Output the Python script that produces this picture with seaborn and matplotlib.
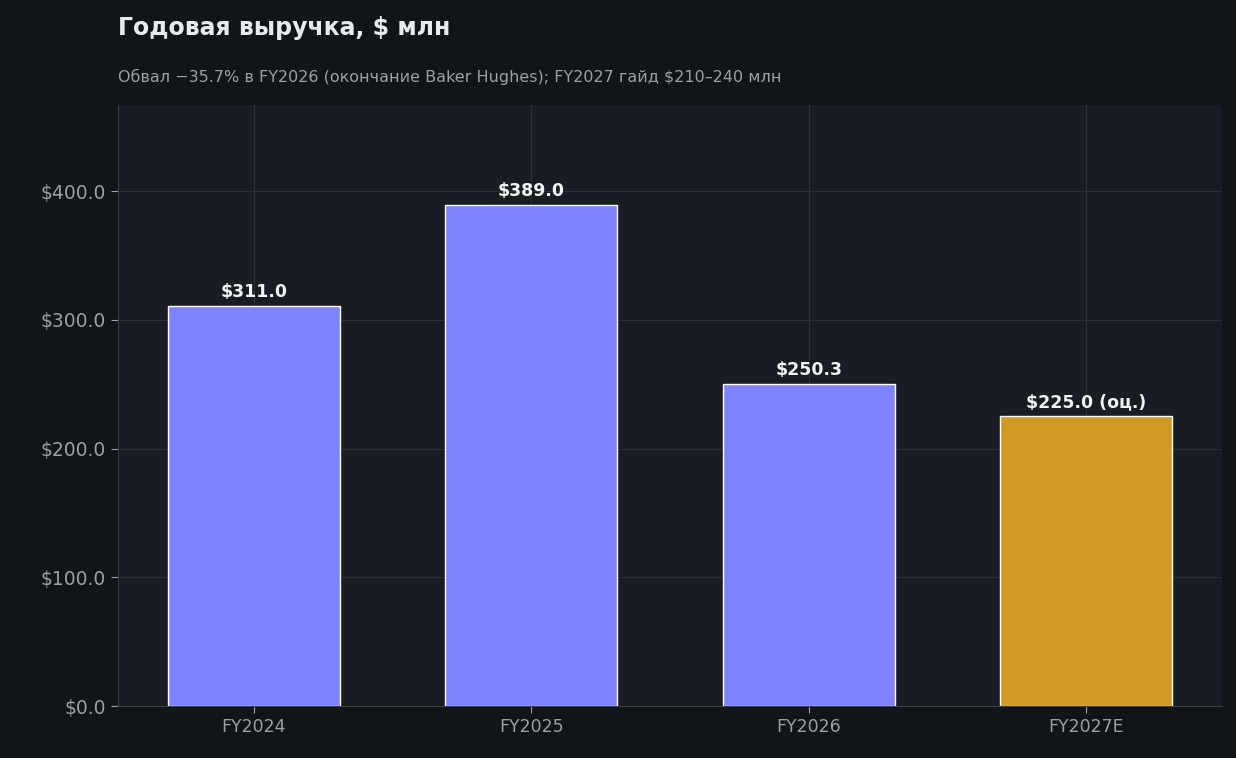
import matplotlib
matplotlib.use("Agg")
import matplotlib.pyplot as plt
import seaborn as sns
import pandas as pd

# данные
years = ["FY2024", "FY2025", "FY2026", "FY2027E"]
revenue = [311.0, 389.0, 250.3, 225.0]
bar_labels = ["$311.0", "$389.0", "$250.3", "$225.0 (оц.)"]
bar_colors = ["#7f83ff", "#7f83ff", "#7f83ff", "#d19a24"]

sns.set_style("dark")
plt.rcParams['font.family'] = ['DejaVu Sans']

df = pd.DataFrame({"year": years, "revenue": revenue})

fig = plt.figure(figsize=(12.36, 7.58), dpi=100, facecolor="#111418")
ax = fig.add_axes([0.0955, 0.0686, 0.8932, 0.793])
ax.set_facecolor("#181c23")

sns.barplot(data=df, x="year", y="revenue", hue="year", palette=bar_colors,
            legend=False, width=0.62, ax=ax, saturation=1)

for i, (v, lab) in enumerate(zip(revenue, bar_labels)):
    ax.text(i, v + 4, lab, ha="center", va="bottom", color="#f1f3f5",
            fontsize=12.5, fontweight="bold")

ax.set_ylim(0, 467)
ax.set_xlim(-0.49, 3.49)
ax.set_yticks([0, 100, 200, 300, 400])
ax.set_yticklabels([f"${t:.1f}" for t in [0, 100, 200, 300, 400]])
ax.set_xlabel("")
ax.set_ylabel("")
ax.grid(True, color="#2a2f38", linewidth=0.8)
ax.set_axisbelow(True)
ax.tick_params(axis="y", colors="#9aa0a6", labelsize=13.5, length=5, left=True)
ax.tick_params(axis="x", colors="#9aa0a6", labelsize=12.5, length=5, bottom=True)
for s in ["top", "right"]:
    ax.spines[s].set_visible(False)
for s in ["left", "bottom"]:
    ax.spines[s].set_visible(True)
    ax.spines[s].set_color("#3a3f48")

fig.text(0.0955, 0.963, "Годовая выручка, $ млн", color="#e8eaed",
         fontsize=17, fontweight="bold", va="center")
fig.text(0.0955, 0.898, "Обвал \u221235.7% в FY2026 (окончание Baker Hughes); FY2027 гайд $210\u2013240 млн",
         color="#9aa0a6", fontsize=11.5, va="center")

fig.savefig("out.png", dpi=100, facecolor=fig.get_facecolor())
